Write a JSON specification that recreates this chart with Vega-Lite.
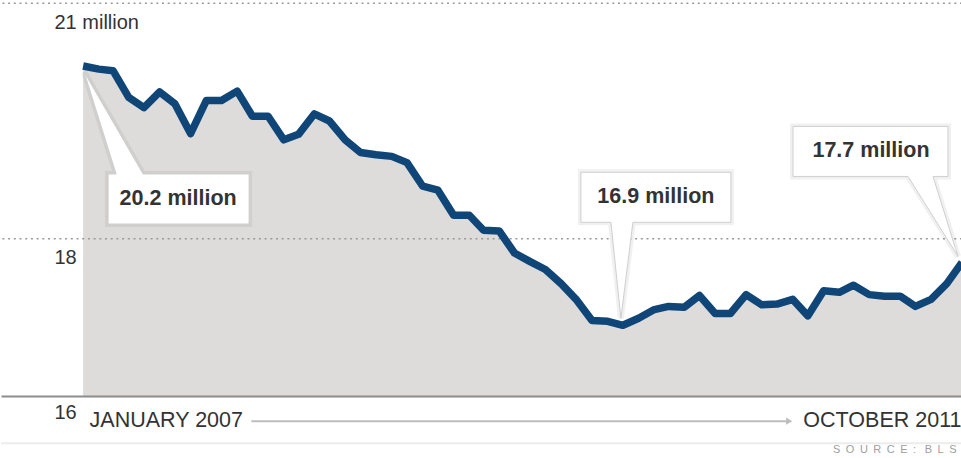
{
  "$schema": "https://vega.github.io/schema/vega-lite/v6.json",
  "width": 961,
  "height": 396,
  "padding": 0,
  "autosize": {"type": "pad"},
  "background": "white",
  "config": {"view": {"stroke": null}, "font": "Liberation Sans"},
  "data": {
    "values": [
      {"date": "2007-01-01", "value": 20.2, "note": "20.2 million"},
      {"date": "2007-02-01", "value": 20.16},
      {"date": "2007-03-01", "value": 20.14},
      {"date": "2007-04-01", "value": 19.8},
      {"date": "2007-05-01", "value": 19.67},
      {"date": "2007-06-01", "value": 19.87},
      {"date": "2007-07-01", "value": 19.72},
      {"date": "2007-08-01", "value": 19.34},
      {"date": "2007-09-01", "value": 19.76},
      {"date": "2007-10-01", "value": 19.76},
      {"date": "2007-11-01", "value": 19.88},
      {"date": "2007-12-01", "value": 19.56},
      {"date": "2008-01-01", "value": 19.56},
      {"date": "2008-02-01", "value": 19.26},
      {"date": "2008-03-01", "value": 19.33},
      {"date": "2008-04-01", "value": 19.59},
      {"date": "2008-05-01", "value": 19.5},
      {"date": "2008-06-01", "value": 19.26},
      {"date": "2008-07-01", "value": 19.1},
      {"date": "2008-08-01", "value": 19.07},
      {"date": "2008-09-01", "value": 19.05},
      {"date": "2008-10-01", "value": 18.97},
      {"date": "2008-11-01", "value": 18.67},
      {"date": "2008-12-01", "value": 18.62},
      {"date": "2009-01-01", "value": 18.3},
      {"date": "2009-02-01", "value": 18.3},
      {"date": "2009-03-01", "value": 18.11},
      {"date": "2009-04-01", "value": 18.1},
      {"date": "2009-05-01", "value": 17.82},
      {"date": "2009-06-01", "value": 17.71},
      {"date": "2009-07-01", "value": 17.61},
      {"date": "2009-08-01", "value": 17.43},
      {"date": "2009-09-01", "value": 17.22},
      {"date": "2009-10-01", "value": 16.96},
      {"date": "2009-11-01", "value": 16.95},
      {"date": "2009-12-01", "value": 16.9, "note": "16.9 million"},
      {"date": "2010-01-01", "value": 16.99},
      {"date": "2010-02-01", "value": 17.1},
      {"date": "2010-03-01", "value": 17.14},
      {"date": "2010-04-01", "value": 17.13},
      {"date": "2010-05-01", "value": 17.28},
      {"date": "2010-06-01", "value": 17.05},
      {"date": "2010-07-01", "value": 17.05},
      {"date": "2010-08-01", "value": 17.29},
      {"date": "2010-09-01", "value": 17.16},
      {"date": "2010-10-01", "value": 17.17},
      {"date": "2010-11-01", "value": 17.23},
      {"date": "2010-12-01", "value": 17.02},
      {"date": "2011-01-01", "value": 17.34},
      {"date": "2011-02-01", "value": 17.32},
      {"date": "2011-03-01", "value": 17.41},
      {"date": "2011-04-01", "value": 17.29},
      {"date": "2011-05-01", "value": 17.27},
      {"date": "2011-06-01", "value": 17.27},
      {"date": "2011-07-01", "value": 17.14},
      {"date": "2011-08-01", "value": 17.23},
      {"date": "2011-09-01", "value": 17.43},
      {"date": "2011-10-01", "value": 17.7, "note": "17.7 million"}
    ]
  },
  "layer": [
    {
      "mark": {"type": "area", "color": "#dddcdb"},
      "encoding": {
        "x": {
          "field": "date",
          "type": "temporal",
          "scale": {
            "type": "utc",
            "nice": false,
            "domain": [
              {"year": 2006, "month": 7, "date": 23, "utc": true},
              {"year": 2011, "month": 10, "date": 1, "utc": true}
            ]
          },
          "axis": {
            "values": [
              {"year": 2007, "month": 1, "date": 1, "utc": true},
              {"year": 2011, "month": 10, "date": 1, "utc": true}
            ],
            "labelExpr": "upper(utcFormat(datum.value, '%B %Y'))",
            "labelAlign": {"condition": {"test": "utcyear(datum.value) == 2007", "value": "left"}, "value": "right"},
            "labelOffset": {"condition": {"test": "utcyear(datum.value) == 2007", "value": 6}, "value": -1},
            "labelFontSize": 21.5,
            "labelColor": "#333333",
            "labelPadding": 13,
            "labelOverlap": false,
            "labelBound": false,
            "ticks": false,
            "tickSize": 0,
            "grid": false,
            "domainColor": "#8c8c8c",
            "domainWidth": 2,
            "zindex": 1,
            "title": "S\u2002O\u2002U\u2002R\u2002C\u2002E\u2002:\u2002 B\u2002L\u2002S",
            "titleFontSize": 11,
            "titleFontWeight": "normal",
            "titleColor": "#a0a0a0",
            "titleAnchor": "end",
            "titleAlign": "right",
            "titleX": 955,
            "titlePadding": 13
          }
        },
        "y": {
          "field": "value",
          "type": "quantitative",
          "scale": {"domain": [16, 21.04], "zero": false, "nice": false},
          "axis": {
            "values": [16, 18, 21],
            "labelExpr": "datum.value == 21 ? '21 million' : format(datum.value, 'd')",
            "labelAlign": "left",
            "labelBaseline": "top",
            "labelPadding": -53,
            "labelOffset": {"condition": {"test": "datum.value == 16", "value": 6}, "value": 9},
            "labelFontSize": 20,
            "labelColor": "#333333",
            "labelBound": false,
            "ticks": false,
            "tickSize": 0,
            "domain": false,
            "grid": false,
            "title": null
          }
        },
        "y2": {"datum": 16}
      }
    },
    {
      "data": {"values": [{}]},
      "mark": {"type": "rule", "color": "#9a9a9a", "strokeWidth": 1.5, "strokeDash": [2, 3.7]},
      "encoding": {"y": {"datum": 18, "type": "quantitative"}}
    },
    {
      "data": {"values": [{}]},
      "mark": {"type": "rule", "color": "#9a9a9a", "strokeWidth": 1.5, "strokeDash": [2, 3.7]},
      "encoding": {"y": {"datum": 21, "type": "quantitative"}}
    },
    {
      "data": {"values": [{}]},
      "mark": {"type": "rule", "color": "#ececec", "strokeWidth": 2},
      "encoding": {"y": {"datum": 15.4, "type": "quantitative"}}
    },
    {
      "data": {"values": [{}]},
      "mark": {"type": "rule", "color": "#bdbdbd", "strokeWidth": 2},
      "encoding": {
        "x": {"datum": {"year": 2007, "month": 11, "date": 29, "utc": true}, "type": "temporal"},
        "x2": {"datum": {"year": 2010, "month": 10, "date": 22, "utc": true}},
        "y": {"datum": 15.68, "type": "quantitative"}
      }
    },
    {
      "data": {"values": [{}]},
      "mark": {"type": "point", "shape": "triangle-right", "filled": true, "color": "#bdbdbd", "opacity": 1, "size": 50},
      "encoding": {
        "x": {"datum": {"year": 2010, "month": 10, "date": 25, "utc": true}, "type": "temporal"},
        "y": {"datum": 15.68, "type": "quantitative"}
      }
    },
    {
      "mark": {"type": "line", "color": "#0f4577", "strokeWidth": 7.5, "strokeJoin": "round"},
      "encoding": {
        "x": {"field": "date", "type": "temporal"},
        "y": {"field": "value", "type": "quantitative"}
      }
    },
    {
      "transform": [{"filter": "isValid(datum.note)"}],
      "mark": {"type": "point", "filled": false, "stroke": "#000000", "strokeOpacity": 0.06, "strokeWidth": 6, "size": 4, "opacity": 1},
      "encoding": {
        "x": {"field": "date", "type": "temporal"},
        "y": {"field": "value", "type": "quantitative"},
        "shape": {
          "field": "note",
          "type": "nominal",
          "scale": {
            "domain": ["20.2 million", "16.9 million", "17.7 million"],
            "range": [
              "M25,108 L33,108 L1,6 L60,108 L166,108 L166,158 L25,158 Z",
              "M-42,-153 L108,-153 L108,-103 L10,-103 L-2,-7 L-12,-103 L-42,-103 Z",
              "M-169,-136 L-14,-136 L-14,-86 L-29,-86 L-4,-6 L-54,-86 L-169,-86 Z"
            ]
          },
          "legend": null
        }
      }
    },
    {
      "transform": [{"filter": "isValid(datum.note)"}],
      "mark": {"type": "point", "filled": true, "fill": "#ffffff", "fillOpacity": 1, "stroke": "#cfcfcf", "strokeWidth": 1, "size": 4, "opacity": 1},
      "encoding": {
        "x": {"field": "date", "type": "temporal"},
        "y": {"field": "value", "type": "quantitative"},
        "shape": {"field": "note", "type": "nominal", "legend": null}
      }
    },
    {
      "transform": [{"filter": "datum.note == '20.2 million'"}],
      "mark": {"type": "text", "fontSize": 21.5, "fontWeight": "bold", "color": "#333333", "align": "center", "baseline": "middle", "dx": 95, "dy": 133},
      "encoding": {
        "x": {"field": "date", "type": "temporal"},
        "y": {"field": "value", "type": "quantitative"},
        "text": {"field": "note"}
      }
    },
    {
      "transform": [{"filter": "datum.note == '16.9 million'"}],
      "mark": {"type": "text", "fontSize": 21.5, "fontWeight": "bold", "color": "#333333", "align": "center", "baseline": "middle", "dx": 33, "dy": -128},
      "encoding": {
        "x": {"field": "date", "type": "temporal"},
        "y": {"field": "value", "type": "quantitative"},
        "text": {"field": "note"}
      }
    },
    {
      "transform": [{"filter": "datum.note == '17.7 million'"}],
      "mark": {"type": "text", "fontSize": 21.5, "fontWeight": "bold", "color": "#333333", "align": "center", "baseline": "middle", "dx": -91, "dy": -111},
      "encoding": {
        "x": {"field": "date", "type": "temporal"},
        "y": {"field": "value", "type": "quantitative"},
        "text": {"field": "note"}
      }
    }
  ]
}
